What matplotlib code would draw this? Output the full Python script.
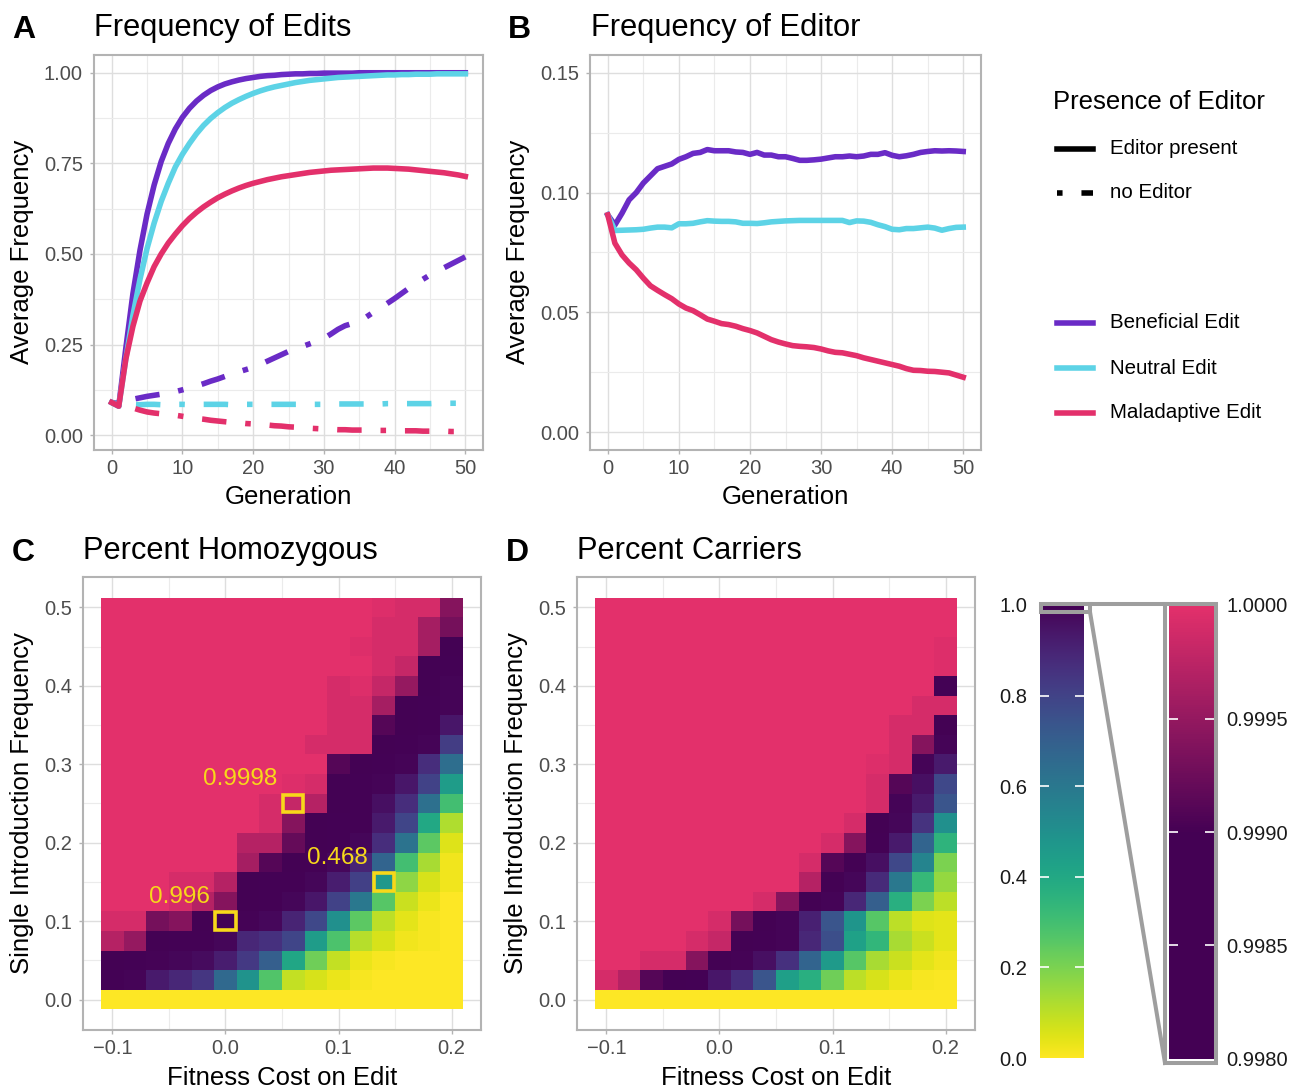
import numpy as np
import matplotlib
matplotlib.use("Agg")
import matplotlib.pyplot as plt
import matplotlib.cm as cm
from matplotlib.colors import LinearSegmentedColormap, Normalize
from matplotlib.lines import Line2D
from matplotlib.patches import Rectangle
from matplotlib.ticker import MultipleLocator, FormatStrFormatter, FuncFormatter

plt.rcParams['font.family'] = ['Liberation Sans', 'DejaVu Sans']

# ---- panel A / B data ----
gen = list(range(51))

ben_editor = [0.09, 0.08, 0.24, 0.39, 0.51, 0.61, 0.69, 0.755, 0.805, 0.845, 0.877,
              0.902, 0.922, 0.938, 0.951, 0.961, 0.969, 0.975, 0.980, 0.984, 0.987,
              0.990, 0.992, 0.993, 0.995, 0.996, 0.997, 0.997, 0.998, 0.998, 0.999,
              0.999, 0.999, 0.999, 0.999, 1.0, 1.0, 1.0, 1.0, 1.0, 1.0,
              1.0, 1.0, 1.0, 1.0, 1.0, 1.0, 1.0, 1.0, 1.0, 1.0]
neu_editor = [0.09, 0.08, 0.21, 0.33, 0.43, 0.515, 0.585, 0.645, 0.695, 0.74, 0.775,
              0.805, 0.832, 0.855, 0.874, 0.89, 0.904, 0.916, 0.926, 0.935, 0.943,
              0.950, 0.956, 0.961, 0.965, 0.969, 0.973, 0.976, 0.979, 0.981, 0.983,
              0.985, 0.987, 0.988, 0.989, 0.990, 0.991, 0.992, 0.993, 0.994, 0.994,
              0.995, 0.995, 0.996, 0.996, 0.996, 0.997, 0.997, 0.997, 0.997, 0.997]
mal_editor = [0.09, 0.08, 0.21, 0.30, 0.37, 0.42, 0.465, 0.50, 0.53, 0.555, 0.578,
              0.598, 0.615, 0.63, 0.643, 0.655, 0.665, 0.674, 0.682, 0.689, 0.695,
              0.70, 0.705, 0.709, 0.713, 0.716, 0.719, 0.722, 0.725, 0.727, 0.729,
              0.731, 0.732, 0.733, 0.734, 0.735, 0.736, 0.737, 0.737, 0.737, 0.736,
              0.735, 0.734, 0.732, 0.73, 0.728, 0.726, 0.724, 0.721, 0.718, 0.714]
ben_none = [0.09, 0.088, 0.094, 0.099, 0.103, 0.107, 0.110, 0.113, 0.117, 0.12, 0.125,
            0.130, 0.136, 0.142, 0.149, 0.155, 0.162, 0.169, 0.175, 0.181, 0.187,
            0.195, 0.204, 0.213, 0.222, 0.231, 0.238, 0.245, 0.252, 0.259, 0.267,
            0.279, 0.292, 0.302, 0.308, 0.314, 0.326, 0.339, 0.351, 0.364, 0.377,
            0.391, 0.405, 0.418, 0.43, 0.442, 0.452, 0.462, 0.472, 0.482, 0.492]
neu_none = [0.09, 0.086, 0.085, 0.085, 0.084, 0.085, 0.085, 0.084, 0.085, 0.085, 0.085,
            0.084, 0.085, 0.085, 0.085, 0.085, 0.085, 0.084, 0.085, 0.085, 0.085,
            0.085, 0.085, 0.085, 0.085, 0.085, 0.085, 0.085, 0.085, 0.085, 0.085,
            0.086, 0.086, 0.086, 0.086, 0.086, 0.086, 0.086, 0.086, 0.087, 0.087,
            0.087, 0.087, 0.087, 0.087, 0.087, 0.088, 0.088, 0.088, 0.088, 0.088]
mal_none = [0.09, 0.083, 0.08, 0.075, 0.069, 0.064, 0.061, 0.059, 0.057, 0.055, 0.052,
            0.049, 0.046, 0.044, 0.041, 0.039, 0.037, 0.035, 0.034, 0.032, 0.031,
            0.029, 0.028, 0.026, 0.025, 0.023, 0.022, 0.021, 0.019, 0.018, 0.017,
            0.016, 0.015, 0.015, 0.014, 0.014, 0.014, 0.013, 0.013, 0.013, 0.012,
            0.012, 0.012, 0.012, 0.011, 0.011, 0.011, 0.011, 0.010, 0.010, 0.010]

ben_freq = [0.0907, 0.0865, 0.0914, 0.097, 0.100, 0.104, 0.107, 0.110, 0.111, 0.112, 0.1139,
            0.115, 0.1164, 0.1168, 0.118, 0.1175, 0.1175, 0.1175, 0.117, 0.1168, 0.116,
            0.1168, 0.1157, 0.1157, 0.115, 0.115, 0.1143, 0.1135, 0.1135, 0.1137, 0.114,
            0.1145, 0.115, 0.115, 0.1153, 0.115, 0.1153, 0.116, 0.116, 0.1167, 0.1156,
            0.115, 0.1154, 0.116, 0.1168, 0.1172, 0.1175, 0.1174, 0.1175, 0.1174, 0.1172]
neu_freq = [0.0907, 0.0842, 0.0843, 0.0844, 0.0845, 0.0847, 0.0852, 0.0856, 0.0856, 0.0853, 0.087,
            0.087, 0.0872, 0.0878, 0.0883, 0.0881, 0.088, 0.088, 0.0878, 0.0872, 0.0872,
            0.0871, 0.0874, 0.0878, 0.088, 0.0882, 0.0883, 0.0884, 0.0884, 0.0884, 0.0884,
            0.0884, 0.0884, 0.0884, 0.0875, 0.0882, 0.0881, 0.0876, 0.0866, 0.0858, 0.0847,
            0.0845, 0.085, 0.085, 0.0853, 0.0856, 0.0852, 0.0843, 0.085, 0.0855, 0.0856]
mal_freq = [0.0907, 0.0789, 0.074, 0.0706, 0.0678, 0.0643, 0.0611, 0.0592, 0.0574, 0.0557, 0.0535,
            0.0518, 0.0507, 0.049, 0.0472, 0.0463, 0.0453, 0.0449, 0.0442, 0.0432, 0.0424,
            0.0414, 0.040, 0.0386, 0.0376, 0.0368, 0.0361, 0.0358, 0.0356, 0.0353, 0.0347,
            0.0339, 0.0333, 0.0331, 0.0325, 0.0319, 0.031, 0.0303, 0.0296, 0.0289, 0.0282,
            0.0275, 0.0265, 0.0258, 0.0257, 0.0254, 0.0253, 0.025, 0.0247, 0.0238, 0.0229]

# ---- panel C / D data ----
cost = [-0.1, -0.08, -0.06, -0.04, -0.02, 0.0, 0.02, 0.04, 0.06, 0.08, 0.1, 0.12, 0.14, 0.16, 0.18, 0.2]
intro = [0.0, 0.025, 0.05, 0.075, 0.1, 0.125, 0.15, 0.175, 0.2, 0.225, 0.25,
         0.275, 0.3, 0.325, 0.35, 0.375, 0.4, 0.425, 0.45, 0.475, 0.5]

homozygous = [
    [0, 0, 0, 0, 0, 0, 0, 0, 0, 0, 0, 0, 0, 0, 0, 0],
    [0.995, 0.99, 0.93, 0.89, 0.84, 0.66, 0.49, 0.27, 0.09, 0.06, 0.03, 0.01, 0, 0, 0, 0],
    [0.997, 0.996, 0.993, 0.985, 0.97, 0.92, 0.83, 0.70, 0.41, 0.22, 0.09, 0.03, 0.01, 0, 0, 0],
    [0.9997, 0.9995, 0.997, 0.996, 0.995, 0.985, 0.89, 0.86, 0.79, 0.45, 0.28, 0.11, 0.06, 0.02, 0.01, 0],
    [0.9999, 0.9999, 0.9993, 0.9994, 0.997, 0.996, 0.993, 0.98, 0.90, 0.78, 0.50, 0.25, 0.10, 0.04, 0.01, 0],
    [1, 1, 1, 0.9999, 0.9997, 0.9994, 0.997, 0.996, 0.985, 0.94, 0.80, 0.60, 0.26, 0.08, 0.03, 0],
    [1, 1, 1, 0.9999, 0.9999, 0.9997, 0.997, 0.996, 0.995, 0.985, 0.92, 0.81, 0.468, 0.17, 0.06, 0.02],
    [1, 1, 1, 1, 1, 1, 0.9996, 0.9991, 0.997, 0.996, 0.98, 0.90, 0.68, 0.30, 0.13, 0.02],
    [1, 1, 1, 1, 1, 1, 0.9997, 0.9997, 0.9992, 0.997, 0.996, 0.985, 0.87, 0.62, 0.25, 0.05],
    [1, 1, 1, 1, 1, 1, 1, 0.9999, 0.9994, 0.997, 0.996, 0.995, 0.93, 0.79, 0.40, 0.12],
    [1, 1, 1, 1, 1, 1, 1, 0.9999, 0.9998, 0.9997, 0.997, 0.996, 0.96, 0.87, 0.63, 0.30],
    [1, 1, 1, 1, 1, 1, 1, 1, 0.99995, 0.9999, 0.997, 0.996, 0.99, 0.94, 0.80, 0.45],
    [1, 1, 1, 1, 1, 1, 1, 1, 1, 1, 0.9991, 0.997, 0.996, 0.99, 0.87, 0.64],
    [1, 1, 1, 1, 1, 1, 1, 1, 1, 0.9999, 0.9999, 0.9999, 0.997, 0.996, 0.99, 0.82],
    [1, 1, 1, 1, 1, 1, 1, 1, 1, 1, 0.9999, 0.9999, 0.9991, 0.997, 0.996, 0.94],
    [1, 1, 1, 1, 1, 1, 1, 1, 1, 1, 0.9999, 0.9999, 0.9996, 0.997, 0.996, 0.99],
    [1, 1, 1, 1, 1, 1, 1, 1, 1, 1, 0.9999, 0.99995, 0.9998, 0.9995, 0.997, 0.99],
    [1, 1, 1, 1, 1, 1, 1, 1, 1, 1, 1, 1, 0.9999, 0.9998, 0.997, 0.996],
    [1, 1, 1, 1, 1, 1, 1, 1, 1, 1, 1, 0.99995, 0.9999, 0.9999, 0.9996, 0.997],
    [1, 1, 1, 1, 1, 1, 1, 1, 1, 1, 1, 1, 0.9999, 0.9999, 0.9996, 0.9993],
    [1, 1, 1, 1, 1, 1, 1, 1, 1, 1, 1, 1, 0.99995, 0.9999, 0.9999, 0.9994],
]

carriers = [
    [0, 0, 0, 0, 0, 0, 0, 0, 0, 0, 0, 0, 0, 0, 0, 0],
    [0.9999, 0.9997, 0.9991, 0.997, 0.995, 0.94, 0.87, 0.74, 0.44, 0.37, 0.22, 0.10, 0.06, 0.03, 0.01, 0.005],
    [1, 1, 0.9999, 0.9999, 0.9994, 0.997, 0.993, 0.96, 0.86, 0.68, 0.46, 0.26, 0.13, 0.08, 0.04, 0.02],
    [1, 1, 1, 1, 0.9999, 0.9998, 0.997, 0.996, 0.99, 0.89, 0.76, 0.43, 0.34, 0.13, 0.08, 0.04],
    [1, 1, 1, 1, 1, 0.9999, 0.9993, 0.997, 0.99, 0.91, 0.74, 0.48, 0.26, 0.10, 0.05, 0.04],
    [1, 1, 1, 1, 1, 1, 1, 0.9999, 0.9994, 0.997, 0.99, 0.89, 0.70, 0.37, 0.20, 0.10],
    [1, 1, 1, 1, 1, 1, 1, 1, 1, 0.9997, 0.997, 0.985, 0.88, 0.60, 0.33, 0.16],
    [1, 1, 1, 1, 1, 1, 1, 1, 1, 0.9999, 0.9991, 0.997, 0.96, 0.78, 0.55, 0.20],
    [1, 1, 1, 1, 1, 1, 1, 1, 1, 1, 0.9999, 0.9994, 0.996, 0.93, 0.68, 0.35],
    [1, 1, 1, 1, 1, 1, 1, 1, 1, 1, 1, 0.9999, 0.997, 0.985, 0.85, 0.50],
    [1, 1, 1, 1, 1, 1, 1, 1, 1, 1, 1, 1, 0.9999, 0.99, 0.93, 0.74],
    [1, 1, 1, 1, 1, 1, 1, 1, 1, 1, 1, 1, 0.9999, 0.9991, 0.96, 0.78],
    [1, 1, 1, 1, 1, 1, 1, 1, 1, 1, 1, 1, 0.99995, 0.9999, 0.99, 0.93],
    [1, 1, 1, 1, 1, 1, 1, 1, 1, 1, 1, 1, 1, 0.9999, 0.9994, 0.99],
    [1, 1, 1, 1, 1, 1, 1, 1, 1, 1, 1, 1, 1, 0.9999, 0.9999, 0.997],
    [1, 1, 1, 1, 1, 1, 1, 1, 1, 1, 1, 1, 1, 1, 0.9999, 0.9999],
    [1, 1, 1, 1, 1, 1, 1, 1, 1, 1, 1, 1, 1, 1, 1, 0.995],
    [1, 1, 1, 1, 1, 1, 1, 1, 1, 1, 1, 1, 1, 1, 1, 0.99995],
    [1, 1, 1, 1, 1, 1, 1, 1, 1, 1, 1, 1, 1, 1, 1, 0.99995],
    [1, 1, 1, 1, 1, 1, 1, 1, 1, 1, 1, 1, 1, 1, 1, 1],
    [1, 1, 1, 1, 1, 1, 1, 1, 1, 1, 1, 1, 1, 1, 1, 1],
]

# highlighted cells in panel C
mark_x = [0.06, 0.14, 0.0]
mark_y = [0.25, 0.15, 0.1]
mark_lab = ['0.9998', '0.468', '0.996']

purple = '#6A2BC6'
cyan = '#5DD3E6'
pink = '#E3306B'
gold = '#F7D81A'
LW = 4.0

W, H = 1300, 1090
fig = plt.figure(figsize=(13, 10.9), dpi=100)


def fx(x):
    return x / W


def fy(y):
    return 1 - y / H


def box(l, t, r, b):
    return [fx(l), fy(b), (r - l) / W, (b - t) / H]


def fmt(nd):
    return FuncFormatter(lambda v, p: f'{v:.{nd}f}'.replace('-', '\u2212'))


def style(ax):
    for s in ax.spines.values():
        s.set_color('#B3B3B3')
        s.set_linewidth(1.5)
    ax.grid(which='major', color='#DEDEDE', lw=1.0)
    ax.grid(which='minor', color='#EBEBEB', lw=0.8)
    ax.set_axisbelow(True)
    ax.tick_params(which='major', length=3, width=1, color='#B3B3B3',
                   labelsize=14.5, labelcolor='#4D4D4D')
    ax.tick_params(axis='y', which='major', pad=5)
    ax.tick_params(axis='x', which='major', pad=3.5)
    ax.tick_params(which='minor', length=0)


# colour scale: viridis (reversed) up to 0.998, then dark purple -> pink
vir = plt.get_cmap('viridis')
stops = list(np.linspace(0, 0.998, 64))
cols = [vir(1 - s / 0.998) for s in stops]
stops += [0.999, 1.0]
cols += ['#440154', pink]
cmap = LinearSegmentedColormap.from_list('edit', list(zip(stops, cols)), N=100000)
norm = Normalize(0, 1)

# ---------- A ----------
axA = fig.add_axes(box(94, 55, 483, 450))
style(axA)
dd = (7.8, (4.4, 3.4, 1, 3.4))
for vals, c in [(ben_none, purple), (neu_none, cyan), (mal_none, pink)]:
    axA.plot(gen, vals, color=c, lw=LW, ls=dd)
for vals, c in [(ben_editor, purple), (neu_editor, cyan), (mal_editor, pink)]:
    axA.plot(gen, vals, color=c, lw=LW, solid_joinstyle='round')
axA.set_xlim(-2.5, 52.5)
axA.set_ylim(-0.041, 1.049)
axA.xaxis.set_major_locator(MultipleLocator(10))
axA.xaxis.set_minor_locator(MultipleLocator(5))
axA.yaxis.set_major_locator(MultipleLocator(0.25))
axA.yaxis.set_minor_locator(MultipleLocator(0.125))
axA.yaxis.set_major_formatter(fmt(2))

# ---------- B ----------
axB = fig.add_axes(box(590, 55, 981, 450))
style(axB)
for vals, c in [(ben_freq, purple), (neu_freq, cyan), (mal_freq, pink)]:
    axB.plot(gen, vals, color=c, lw=LW, solid_joinstyle='round')
axB.set_xlim(-2.5, 52.5)
axB.set_ylim(-0.0075, 0.1575)
axB.xaxis.set_major_locator(MultipleLocator(10))
axB.xaxis.set_minor_locator(MultipleLocator(5))
axB.yaxis.set_major_locator(MultipleLocator(0.05))
axB.yaxis.set_minor_locator(MultipleLocator(0.025))
axB.yaxis.set_major_formatter(fmt(2))


# ---------- C / D ----------
def heat(ax, mat):
    style(ax)
    ax.pcolormesh(cost, intro, np.array(mat), cmap=cmap, norm=norm, shading='nearest')
    ax.set_xlim(-0.126, 0.226)
    ax.set_ylim(-0.03875, 0.53875)
    ax.xaxis.set_major_locator(MultipleLocator(0.1))
    ax.xaxis.set_minor_locator(MultipleLocator(0.05))
    ax.yaxis.set_major_locator(MultipleLocator(0.1))
    ax.yaxis.set_minor_locator(MultipleLocator(0.05))
    ax.xaxis.set_major_formatter(fmt(1))
    ax.yaxis.set_major_formatter(fmt(1))


axC = fig.add_axes(box(83, 577, 481, 1030))
heat(axC, homozygous)
for x, y, lab in zip(mark_x, mark_y, mark_lab):
    axC.add_patch(Rectangle((x - 0.009, y - 0.0112), 0.018, 0.0224, fill=False,
                            ec=gold, lw=2.6, zorder=4))
    axC.text(x - 0.014, y + 0.031, lab, color=gold, fontsize=17.5,
             ha='right', va='center', zorder=5)

axD = fig.add_axes(box(577, 577, 975, 1030))
heat(axD, carriers)

# ---------- colour bars ----------
sm = cm.ScalarMappable(norm=norm, cmap=cmap)
cax1 = fig.add_axes(box(1040, 605, 1084, 1058))
cb1 = fig.colorbar(sm, cax=cax1, boundaries=np.linspace(0, 1, 2001))
cb1.outline.set_visible(False)
cb1.set_ticks([0, 0.2, 0.4, 0.6, 0.8, 1.0])
cax1.yaxis.set_ticks_position('left')
cax1.yaxis.set_major_formatter(FormatStrFormatter('%.1f'))
cax1.tick_params(length=0, labelsize=14.5, pad=9, labelcolor='#1A1A1A')
cax1.hlines([0.2, 0.4, 0.6, 0.8], 0, 0.2, colors='white', lw=1.2, zorder=5)
cax1.hlines([0.2, 0.4, 0.6, 0.8], 0.8, 1, colors='white', lw=1.2, zorder=5)

cax2 = fig.add_axes(box(1169, 605, 1214, 1059))
cb2 = fig.colorbar(sm, cax=cax2, boundaries=np.linspace(0.998, 1.0, 401))
cb2.outline.set_visible(False)
cb2.set_ticks([0.998, 0.9985, 0.999, 0.9995, 1.0])
cax2.yaxis.set_major_formatter(FormatStrFormatter('%.4f'))
cax2.tick_params(length=0, labelsize=14.5, pad=9, labelcolor='#1A1A1A')
cax2.hlines([0.9985, 0.999, 0.9995], 0, 0.2, colors='white', lw=1.2, zorder=5)
cax2.hlines([0.9985, 0.999, 0.9995], 0.8, 1, colors='white', lw=1.2, zorder=5)

zc = '#9E9E9E'
fig.add_artist(Rectangle((fx(1165), fy(1063)), (1216 - 1165) / W, (1063 - 604) / H,
                         fill=False, ec=zc, lw=2.9, transform=fig.transFigure))
fig.add_artist(Rectangle((fx(1041), fy(612)), (1090 - 1041) / W, 8 / H,
                         fill=False, ec=zc, lw=2.9, transform=fig.transFigure))
fig.add_artist(Line2D([fx(1090), fx(1165)], [fy(604), fy(604)], color=zc, lw=2.9,
                      transform=fig.transFigure))
fig.add_artist(Line2D([fx(1090), fx(1165)], [fy(612), fy(1063)], color=zc, lw=2.9,
                      transform=fig.transFigure))

# ---------- legends ----------
fig.text(fx(1053), fy(102), 'Presence of Editor', fontsize=18.5, va='center')
leg_rows = [(149, 'Editor present', 'black', '-'),
            (193, 'no Editor', 'black', dd),
            (323, 'Beneficial Edit', purple, '-'),
            (368, 'Neutral Edit', cyan, '-'),
            (413, 'Maladaptive Edit', pink, '-')]
for y, lab, c, ls in leg_rows:
    fig.add_artist(Line2D([fx(1057), fx(1093)], [fy(y), fy(y)], color=c, lw=LW, ls=ls,
                          transform=fig.transFigure))
    fig.text(fx(1110), fy(y), lab, fontsize=14.8, va='center')

# ---------- titles and axis labels ----------
for x, y, s in [(12, 38, 'A'), (508, 38, 'B'), (12, 561, 'C'), (506, 561, 'D')]:
    fig.text(fx(x), fy(y), s, fontsize=23, fontweight='bold', va='baseline')
for x, y, s in [(94, 36, 'Frequency of Edits'), (591, 36, 'Frequency of Editor'),
                (83, 559, 'Percent Homozygous'), (577, 559, 'Percent Carriers')]:
    fig.text(fx(x), fy(y), s, fontsize=22.2, va='baseline')

for x, s in [(288, 'Generation'), (785, 'Generation')]:
    fig.text(fx(x), fy(504), s, fontsize=18.5, ha='center', va='baseline')
for x, s in [(282, 'Fitness Cost on Edit'), (776, 'Fitness Cost on Edit')]:
    fig.text(fx(x), fy(1085), s, fontsize=18.5, ha='center', va='baseline')
for x in [22, 518]:
    fig.text(fx(x), fy(252), 'Average Frequency', fontsize=18.5, rotation=90,
             ha='center', va='center')
for x in [22, 516]:
    fig.text(fx(x), fy(803), 'Single Introduction Frequency', fontsize=18.5, rotation=90,
             ha='center', va='center')

fig.savefig('out.png', dpi=100)
